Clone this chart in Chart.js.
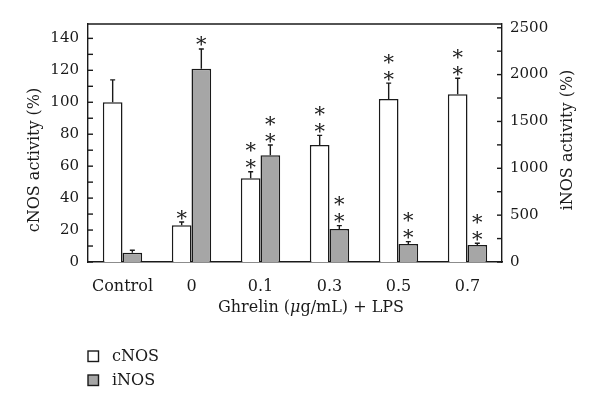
<!DOCTYPE html>
<html>
<head>
<meta charset="utf-8">
<script src="https://cdn.jsdelivr.net/npm/chart.js@4"></script>
<style>
  body { margin: 0; background: #fff; }
  #wrap { width: 600px; height: 410px; }
</style>
</head>
<body>
<div id="wrap"><canvas id="nosChart" width="600" height="410"></canvas></div>
<script>
// Data
const groups = ['Control', '0', '0.1', '0.3', '0.5', '0.7'];
const cnosValues = [100, 23, 52.5, 73.3, 102, 105];
const cnosErrors = [14, 2, 4, 6, 10, 10];
const inosValues = [100, 2063, 1138, 352, 192, 181];
const inosErrors = [25, 210, 110, 36, 25, 19];
const cnosStars = ['', '*', '**', '**', '**', '**'];
const inosStars = ['', '*', '**', '**', '**', '**'];
// tick marks (labels every other one)
const cnosTicks = [0, 10, 20, 30, 40, 50, 60, 70, 80, 90, 100, 110, 120, 130, 140];
const inosTicks = [0, 250, 500, 750, 1000, 1250, 1500, 1750, 2000, 2250, 2500];

const errors = [cnosErrors, inosErrors];
const stars = [cnosStars, inosStars];
const serif = "'DejaVu Serif', 'Liberation Serif', serif";
const ink = '#1a1a1a';

// Error bars, asterisks, inward ticks, titles and legend
const decorations = {
    id: 'decorations',
    afterDatasetsDraw(chart) {
        const ctx = chart.ctx;
        const area = chart.chartArea;
        ctx.save();
        ctx.strokeStyle = ink;
        ctx.fillStyle = ink;
        ctx.lineWidth = 1.4;

        chart.data.datasets.forEach((ds, i) => {
            const meta = chart.getDatasetMeta(i);
            const scale = chart.scales[ds.yAxisID];
            meta.data.forEach((bar, j) => {
                const yTop = scale.getPixelForValue(ds.data[j] + errors[i][j]);
                ctx.beginPath();
                ctx.moveTo(bar.x, bar.y);
                ctx.lineTo(bar.x, yTop);
                ctx.moveTo(bar.x - 2.5, yTop);
                ctx.lineTo(bar.x + 2.5, yTop);
                ctx.stroke();

                ctx.font = '21px ' + serif;
                ctx.textAlign = 'center';
                ctx.textBaseline = 'middle';
                for (let k = 0; k < stars[i][j].length; k++) {
                    ctx.fillText('*', bar.x, yTop - 3 - k * 17);
                }
            });
        });

        // top frame line
        ctx.beginPath();
        ctx.moveTo(area.left, area.top);
        ctx.lineTo(area.right, area.top);
        ctx.stroke();

        // inward tick marks
        const y = chart.scales.y;
        y.ticks.forEach(t => {
            const p = y.getPixelForValue(t.value);
            ctx.beginPath();
            ctx.moveTo(area.left, p);
            ctx.lineTo(area.left + 5, p);
            ctx.stroke();
        });
        const y1 = chart.scales.y1;
        y1.ticks.forEach(t => {
            const p = y1.getPixelForValue(t.value);
            ctx.beginPath();
            ctx.moveTo(area.right, p);
            ctx.lineTo(area.right - 5, p);
            ctx.stroke();
        });

        // axis titles
        ctx.font = '16px ' + serif;
        ctx.textAlign = 'center';
        ctx.textBaseline = 'middle';
        ctx.save();
        ctx.translate(35, 160);
        ctx.rotate(-Math.PI / 2);
        ctx.fillText('cNOS activity (%)', 0, 0);
        ctx.restore();
        ctx.save();
        ctx.translate(568, 140);
        ctx.rotate(-Math.PI / 2);
        ctx.fillText('iNOS activity (%)', 0, 0);
        ctx.restore();

        const parts = [['Ghrelin (', ''], ['μ', 'italic '], ['g/mL) + LPS', '']];
        let total = 0;
        parts.forEach(p => { ctx.font = p[1] + '16px ' + serif; total += ctx.measureText(p[0]).width; });
        let x = 311 - total / 2;
        ctx.textAlign = 'left';
        parts.forEach(p => {
            ctx.font = p[1] + '16px ' + serif;
            ctx.fillText(p[0], x, 308);
            x += ctx.measureText(p[0]).width;
        });

        // legend
        ctx.font = '16px ' + serif;
        chart.data.datasets.forEach((ds, i) => {
            const top = 351 + i * 24;
            ctx.fillStyle = ds.backgroundColor;
            ctx.fillRect(88, top, 10.5, 10.5);
            ctx.strokeRect(88, top, 10.5, 10.5);
            ctx.fillStyle = ink;
            ctx.fillText(ds.label, 112, top + 5.5);
        });
        ctx.restore();
    }
};

new Chart(document.getElementById('nosChart').getContext('2d'), {
    type: 'bar',
    data: {
        labels: groups,
        datasets: [{
            label: 'cNOS',
            data: cnosValues,
            yAxisID: 'y',
            backgroundColor: '#ffffff',
            borderColor: ink,
            borderWidth: 1.5
        }, {
            label: 'iNOS',
            data: inosValues,
            yAxisID: 'y1',
            backgroundColor: '#a6a6a6',
            borderColor: ink,
            borderWidth: 1.5
        }]
    },
    options: {
        responsive: false,
        animation: false,
        layout: { padding: { top: 24 } },
        categoryPercentage: 0.57,
        barPercentage: 1,
        plugins: {
            legend: { display: false },
            tooltip: { enabled: false }
        },
        scales: {
            x: {
                grid: { display: false },
                border: { color: ink, width: 1.4 },
                ticks: { color: ink, font: { family: serif, size: 16 }, padding: 7 },
                afterFit: s => { s.height = 148; }
            },
            y: {
                position: 'left',
                min: 0,
                max: 149,
                grid: { display: false, drawTicks: false },
                border: { color: ink, width: 1.4 },
                afterBuildTicks: s => { s.ticks = cnosTicks.map(v => ({ value: v })); },
                ticks: {
                    autoSkip: false,
                    color: ink,
                    padding: 9,
                    font: { family: serif, size: 15 },
                    callback: v => (v % 20 === 0 ? v : '')
                },
                afterFit: s => { s.width = 88; }
            },
            y1: {
                position: 'right',
                min: 0,
                max: 2540,
                grid: { display: false, drawTicks: false },
                border: { color: ink, width: 1.4 },
                afterBuildTicks: s => { s.ticks = inosTicks.map(v => ({ value: v })); },
                ticks: {
                    autoSkip: false,
                    color: ink,
                    padding: 8,
                    font: { family: serif, size: 15 },
                    callback: v => (v % 500 === 0 ? v : '')
                },
                afterFit: s => { s.width = 98; }
            }
        }
    },
    plugins: [decorations]
});
</script>
</body>
</html>
